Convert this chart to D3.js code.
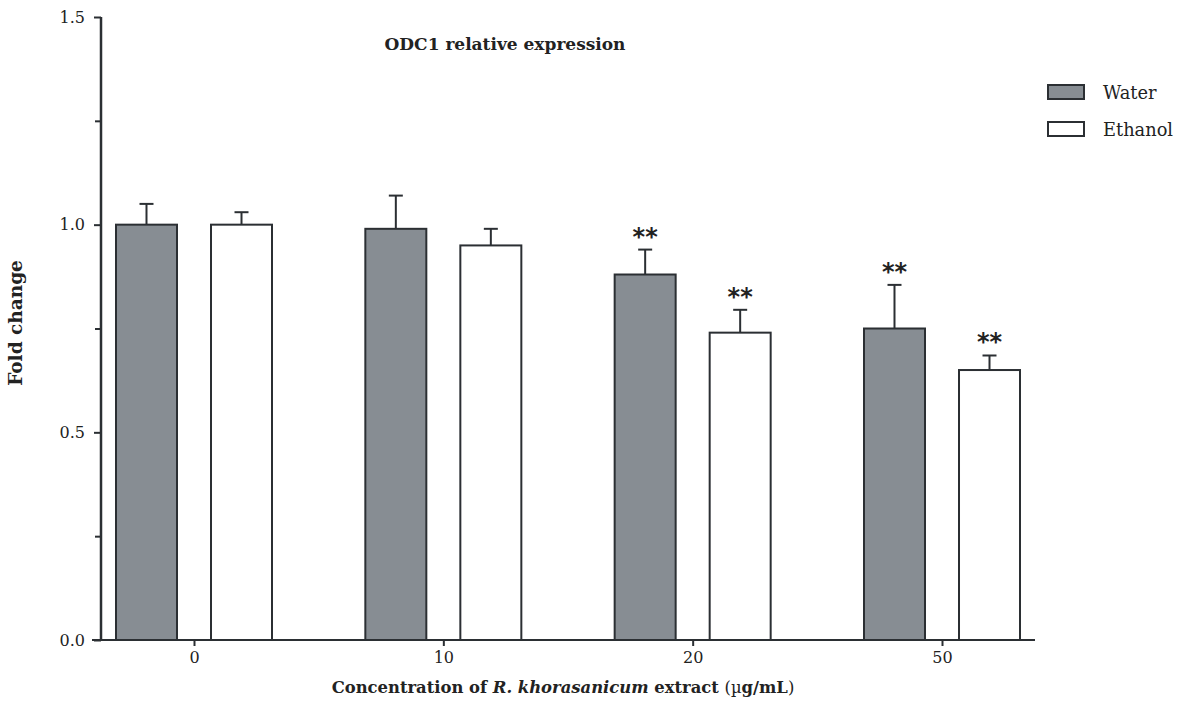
<!DOCTYPE html>
<html>
<head>
<meta charset="utf-8">
<script src="https://cdn.jsdelivr.net/npm/d3@7"></script>
<style>
  body { margin: 0; background: #fff; }
  text { font-family: "DejaVu Serif", serif; fill: #222; }
</style>
</head>
<body>
<div id="chart"></div>
<script>
// data
const concentrations = ["0", "10", "20", "50"];
const seriesNames = ["Water", "Ethanol"];
const waterMean = [1.0, 0.99, 0.88, 0.75];
const waterErr = [0.05, 0.08, 0.06, 0.105];
const ethanolMean = [1.0, 0.95, 0.74, 0.65];
const ethanolErr = [0.03, 0.04, 0.055, 0.035];
const waterSig = ["", "", "**", "**"];
const ethanolSig = ["", "", "**", "**"];
const yTicks = [0, 0.5, 1.0, 1.5];
const yMinorTicks = [0.25, 0.75, 1.25];

const width = 1179, height = 703;
const fills = { Water: "#878d93", Ethanol: "#ffffff" };
const stroke = "#2b2f33";

const svg = d3.select("#chart").append("svg")
  .attr("width", width)
  .attr("height", height);

// scales
const x = d3.scalePoint()
  .domain(concentrations)
  .range([194, 942]);

const xSub = d3.scaleBand()
  .domain(seriesNames)
  .range([-78, 78])
  .paddingInner(0.358);

const y = d3.scaleLinear()
  .domain([0, 1.5])
  .range([640, 17]);

const rows = concentrations.map((c, i) => ({
  c,
  values: [
    { key: "Water", mean: waterMean[i], err: waterErr[i], sig: waterSig[i] },
    { key: "Ethanol", mean: ethanolMean[i], err: ethanolErr[i], sig: ethanolSig[i] }
  ]
}));

// bars
const groups = svg.selectAll(".grp")
  .data(rows)
  .enter().append("g")
  .attr("class", "grp")
  .attr("transform", d => "translate(" + x(d.c) + ",0)");

const items = groups.selectAll(".item")
  .data(d => d.values)
  .enter().append("g")
  .attr("class", "item");

// error bars (drawn first so bar outline sits on top)
items.append("line")
  .attr("x1", d => xSub(d.key) + xSub.bandwidth() / 2)
  .attr("x2", d => xSub(d.key) + xSub.bandwidth() / 2)
  .attr("y1", d => y(d.mean))
  .attr("y2", d => y(d.mean + d.err))
  .attr("stroke", stroke)
  .attr("stroke-width", 2);

items.append("line")
  .attr("x1", d => xSub(d.key) + xSub.bandwidth() / 2 - 7)
  .attr("x2", d => xSub(d.key) + xSub.bandwidth() / 2 + 7)
  .attr("y1", d => y(d.mean + d.err))
  .attr("y2", d => y(d.mean + d.err))
  .attr("stroke", stroke)
  .attr("stroke-width", 2);

items.append("rect")
  .attr("x", d => xSub(d.key))
  .attr("width", xSub.bandwidth())
  .attr("y", d => y(d.mean))
  .attr("height", d => y(0) - y(d.mean))
  .attr("fill", d => fills[d.key])
  .attr("stroke", stroke)
  .attr("stroke-width", 2);

items.filter(d => d.sig)
  .append("text")
  .attr("x", d => xSub(d.key) + xSub.bandwidth() / 2)
  .attr("y", d => y(d.mean + d.err) - 5)
  .attr("text-anchor", "middle")
  .style("font-family", "'DejaVu Sans', sans-serif")
  .style("font-weight", "bold")
  .style("font-size", "24px")
  .text(d => d.sig);

// y axis
const yAxis = svg.append("g")
  .attr("transform", "translate(101,0)")
  .call(d3.axisLeft(y).tickValues(yTicks).tickSize(7).tickPadding(9).tickFormat(d3.format(".1f")));
yAxis.select(".domain").remove();
yAxis.selectAll(".tick line").attr("stroke", stroke).attr("stroke-width", 2);
yAxis.selectAll(".tick text").style("font-size", "16px").attr("fill", "#222");

const yMinor = svg.append("g")
  .attr("transform", "translate(101,0)")
  .call(d3.axisLeft(y).tickValues(yMinorTicks).tickSize(6).tickFormat(""));
yMinor.select(".domain").remove();
yMinor.selectAll(".tick line").attr("stroke", stroke).attr("stroke-width", 2);

svg.append("line")
  .attr("x1", 101).attr("x2", 101)
  .attr("y1", y(0)).attr("y2", y(1.5))
  .attr("stroke", stroke).attr("stroke-width", 2.5);

// x axis
const xAxis = svg.append("g")
  .attr("transform", "translate(0," + y(0) + ")")
  .call(d3.axisBottom(x).tickSize(6).tickPadding(6));
xAxis.select(".domain").remove();
xAxis.selectAll(".tick line").attr("stroke", stroke).attr("stroke-width", 2);
xAxis.selectAll(".tick text").style("font-size", "16px").attr("fill", "#222");

svg.append("line")
  .attr("x1", 92).attr("x2", 1035)
  .attr("y1", y(0)).attr("y2", y(0))
  .attr("stroke", stroke).attr("stroke-width", 2);

// title
svg.append("text")
  .attr("x", 505)
  .attr("y", 50)
  .attr("text-anchor", "middle")
  .style("font-weight", "bold")
  .style("font-size", "17px")
  .text("ODC1 relative expression");

// axis labels
svg.append("text")
  .attr("transform", "translate(22,323) rotate(-90)")
  .attr("text-anchor", "middle")
  .style("font-weight", "bold")
  .style("font-size", "18.5px")
  .text("Fold change");

const xl = svg.append("text")
  .attr("x", 563)
  .attr("y", 693)
  .attr("text-anchor", "middle")
  .style("font-weight", "bold")
  .style("font-size", "16.4px");
xl.append("tspan").text("Concentration of ");
xl.append("tspan").style("font-style", "italic").text("R. khorasanicum");
xl.append("tspan").text(" extract ");
xl.append("tspan").style("font-weight", "normal").text("(");
xl.append("tspan").style("font-weight", "normal").text("\u00b5");
xl.append("tspan").text("g/mL");
xl.append("tspan").style("font-weight", "normal").text(")");

// legend
const legend = svg.append("g").attr("transform", "translate(1048,85)");
const lg = legend.selectAll(".lg")
  .data(seriesNames)
  .enter().append("g")
  .attr("transform", (d, i) => "translate(0," + i * 37 + ")");
lg.append("rect")
  .attr("width", 36)
  .attr("height", 14)
  .attr("fill", d => fills[d])
  .attr("stroke", stroke)
  .attr("stroke-width", 2);
lg.append("text")
  .attr("x", 55)
  .attr("y", 14)
  .style("font-size", "17.8px")
  .text(d => d);
</script>
</body>
</html>
